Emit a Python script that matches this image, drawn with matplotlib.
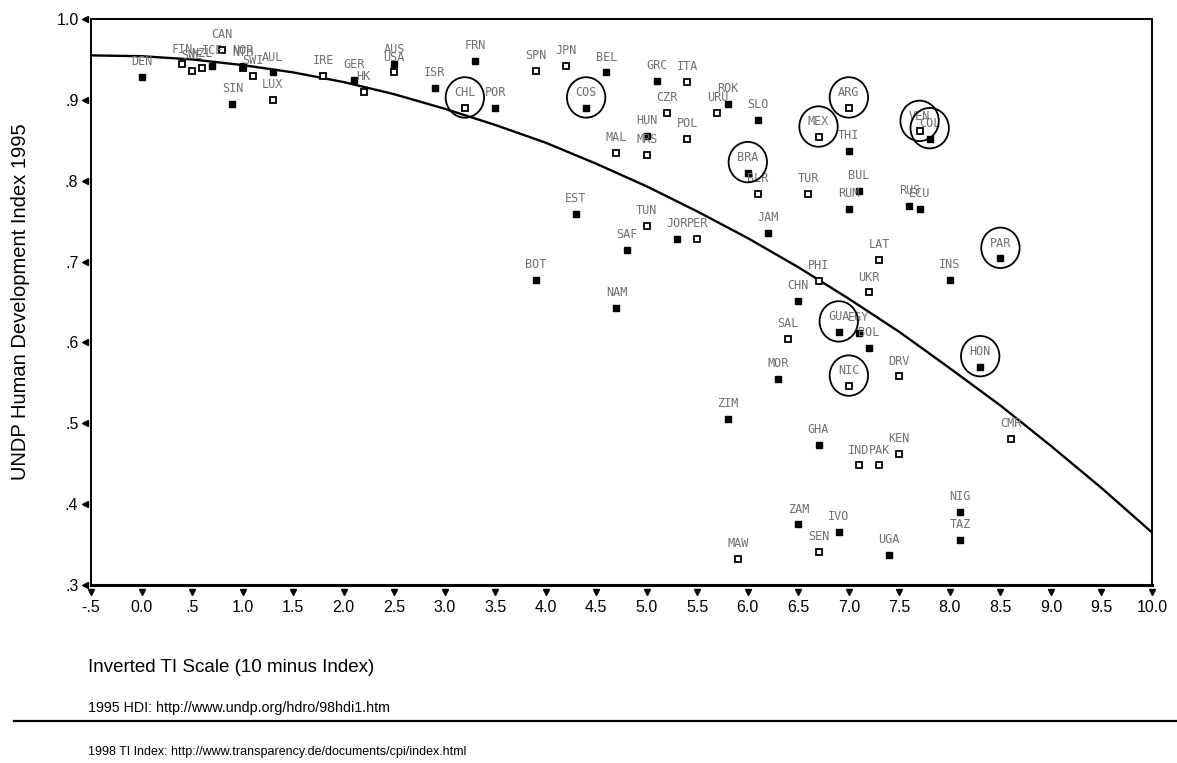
import matplotlib
matplotlib.use("Agg")
import matplotlib.pyplot as plt
from matplotlib.patches import Ellipse
from matplotlib.lines import Line2D

# countries plotted with open squares
open_codes = ["FIN", "SWE", "NZL", "CAN", "NTH", "SWI", "LUX", "IRE", "HK", "USA",
              "CHL", "SPN", "JPN", "ITA", "CZR", "MRS", "MAL", "POL", "URU", "ARG",
              "MEX", "VEN", "BLR", "TUR", "TUN", "PER", "PHI", "LAT", "UKR", "SAL",
              "DRV", "NIC", "IND", "PAK", "KEN", "CMR", "SEN", "MAW"]
open_x = [0.4, 0.5, 0.6, 0.8, 1.0, 1.1, 1.3, 1.8, 2.2, 2.5,
          3.2, 3.9, 4.2, 5.4, 5.2, 5.0, 4.7, 5.4, 5.7, 7.0,
          6.7, 7.7, 6.1, 6.6, 5.0, 5.5, 6.7, 7.3, 7.2, 6.4,
          7.5, 7.0, 7.1, 7.3, 7.5, 8.6, 6.7, 5.9]
open_y = [0.944, 0.936, 0.939, 0.962, 0.940, 0.930, 0.900, 0.930, 0.910, 0.934,
          0.890, 0.936, 0.942, 0.922, 0.884, 0.832, 0.834, 0.852, 0.884, 0.890,
          0.854, 0.861, 0.784, 0.784, 0.744, 0.728, 0.676, 0.702, 0.662, 0.604,
          0.558, 0.546, 0.448, 0.448, 0.462, 0.481, 0.341, 0.332]

# countries plotted with solid squares
solid_codes = ["DEN", "ICE", "SIN", "NOR", "AUL", "GER", "AUS", "ISR", "FRN", "POR",
               "COS", "BEL", "GRC", "HUN", "ROK", "SLO", "THI", "COL", "BRA", "BUL",
               "RUM", "RUS", "ECU", "EST", "SAF", "JOR", "JAM", "BOT", "NAM", "INS",
               "PAR", "CHN", "GUA", "EGY", "BOL", "MOR", "HON", "ZIM", "GHA", "NIG",
               "TAZ", "ZAM", "IVO", "UGA"]
solid_x = [0.0, 0.7, 0.9, 1.0, 1.3, 2.1, 2.5, 2.9, 3.3, 3.5,
           4.4, 4.6, 5.1, 5.0, 5.8, 6.1, 7.0, 7.8, 6.0, 7.1,
           7.0, 7.6, 7.7, 4.3, 4.8, 5.3, 6.2, 3.9, 4.7, 8.0,
           8.5, 6.5, 6.9, 7.1, 7.2, 6.3, 8.3, 5.8, 6.7, 8.1,
           8.1, 6.5, 6.9, 7.4]
solid_y = [0.928, 0.942, 0.895, 0.942, 0.934, 0.925, 0.944, 0.915, 0.948, 0.890,
           0.890, 0.934, 0.923, 0.855, 0.895, 0.875, 0.837, 0.852, 0.810, 0.787,
           0.765, 0.769, 0.765, 0.759, 0.714, 0.728, 0.735, 0.677, 0.643, 0.677,
           0.704, 0.651, 0.613, 0.612, 0.593, 0.555, 0.570, 0.505, 0.473, 0.390,
           0.356, 0.375, 0.366, 0.337]

# Latin American countries that are circled
circled = ["CHL", "COS", "ARG", "MEX", "BRA", "VEN", "COL", "PAR", "GUA", "NIC", "HON"]

# fitted curve
fit_x = [-0.5, 0.0, 0.5, 1.0, 1.5, 2.0, 2.5, 3.0, 3.5, 4.0, 4.5,
         5.0, 5.5, 6.0, 6.5, 7.0, 7.5, 8.0, 8.5, 9.0, 9.5, 10.0]
fit_y = [0.955, 0.954, 0.950, 0.943, 0.934, 0.922, 0.907, 0.889, 0.869, 0.847, 0.821,
         0.793, 0.762, 0.729, 0.693, 0.654, 0.613, 0.568, 0.522, 0.472, 0.420, 0.365]

x_ticks = [-0.5, 0.0, 0.5, 1.0, 1.5, 2.0, 2.5, 3.0, 3.5, 4.0, 4.5,
           5.0, 5.5, 6.0, 6.5, 7.0, 7.5, 8.0, 8.5, 9.0, 9.5, 10.0]
x_tick_labels = ["-.5", "0.0", ".5", "1.0", "1.5", "2.0", "2.5", "3.0", "3.5", "4.0", "4.5",
                 "5.0", "5.5", "6.0", "6.5", "7.0", "7.5", "8.0", "8.5", "9.0", "9.5", "10.0"]
y_ticks = [0.3, 0.4, 0.5, 0.6, 0.7, 0.8, 0.9, 1.0]
y_tick_labels = [".3", ".4", ".5", ".6", ".7", ".8", ".9", "1.0"]

plt.rcParams['font.family'] = ['Liberation Sans', 'DejaVu Sans']
label_color = '#707070'

fig = plt.figure(figsize=(11.77, 7.63), dpi=100)
ax = fig.add_axes([91 / 1177, 1 - 585 / 763, (1152 - 91) / 1177, (585 - 19) / 763])

ax.plot(fit_x, fit_y, color='k', lw=1.7, zorder=2)

ax.plot(open_x, open_y, ls='none', marker='s', ms=4.6, mfc='white', mec='k', mew=1.3, zorder=3)
ax.plot(solid_x, solid_y, ls='none', marker='s', ms=4.2, mfc='k', mec='k', zorder=4)

all_codes = open_codes + solid_codes
all_x = open_x + solid_x
all_y = open_y + solid_y
for code, xv, yv in zip(all_codes, all_x, all_y):
    ax.annotate(code, (xv, yv), xytext=(0, 11), textcoords='offset points',
                ha='center', va='center', fontsize=8.5, color=label_color,
                family='DejaVu Sans Mono', zorder=5)
    if code in circled:
        ax.add_patch(Ellipse((xv, yv + 0.013), 0.38, 0.05, fill=False,
                             ec='k', lw=1.3, zorder=6))

ax.set_xlim(-0.5, 10.0)
ax.set_ylim(0.3, 1.0)
ax.set_xticks(x_ticks)
ax.set_xticklabels(x_tick_labels)
ax.set_yticks(y_ticks)
ax.set_yticklabels(y_tick_labels)
ax.tick_params(axis='both', length=0, labelsize=11.5)
ax.tick_params(axis='x', pad=11)
ax.tick_params(axis='y', pad=9)

# little pin shaped tick marks like the original
ax.plot(x_ticks, [-0.012] * len(x_ticks), ls='none', marker='v', ms=5, color='k',
        transform=ax.get_xaxis_transform(), clip_on=False)
ax.plot([-0.006] * len(y_ticks), y_ticks, ls='none', marker='<', ms=5, color='k',
        transform=ax.get_yaxis_transform(), clip_on=False)

for side in ['top', 'right', 'left']:
    ax.spines[side].set_linewidth(1.4)
ax.spines['bottom'].set_linewidth(2.2)

ax.set_ylabel("UNDP Human Development Index 1995", fontsize=14.5)
ax.yaxis.set_label_coords(-0.0575, 0.5)

fig.text(88 / 1177, 1 - 667 / 763, "Inverted TI Scale (10 minus Index)",
         ha='left', va='center', fontsize=13.5)
fig.text(88 / 1177, 1 - 708 / 763, "1995 HDI: http://www.undp.org/hdro/98hdi1.htm",
         ha='left', va='center', fontsize=10.3)
fig.text(88 / 1177, 1 - 752 / 763, "1998 TI Index: http://www.transparency.de/documents/cpi/index.html",
         ha='left', va='center', fontsize=9)
fig.add_artist(Line2D([14 / 1177, 1.0], [1 - 721 / 763, 1 - 721 / 763], color='k', lw=1.6))

plt.savefig("out.png", dpi=100)
